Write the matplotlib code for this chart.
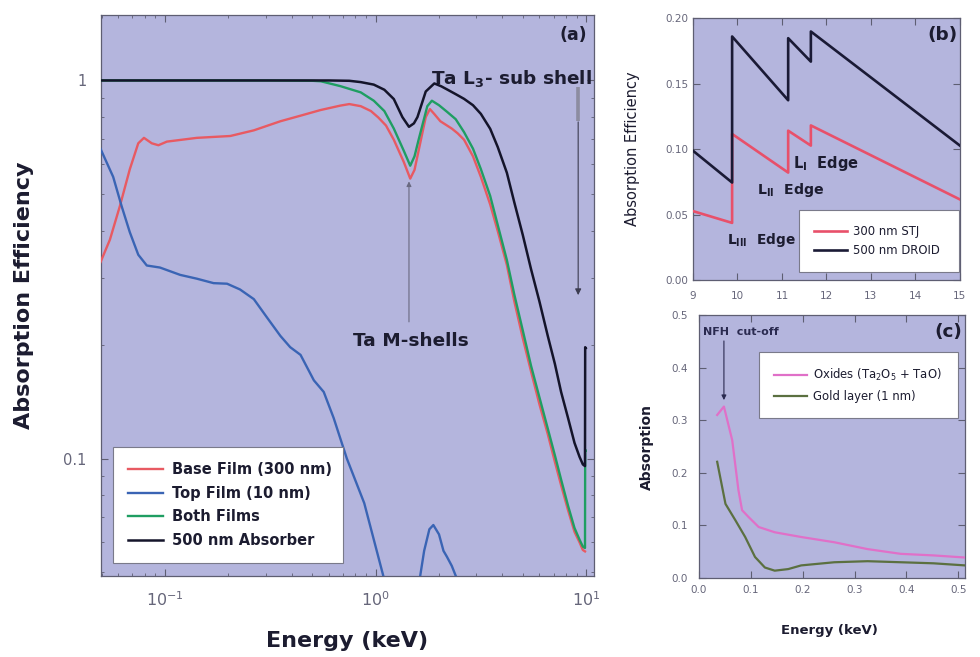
import matplotlib
matplotlib.use("Agg")
import matplotlib.pyplot as plt
from matplotlib.ticker import FixedLocator, FuncFormatter, NullFormatter, LogLocator, MultipleLocator

plt.rcParams['font.family'] = ['DejaVu Sans']
plt.rcParams['mathtext.fontset'] = 'dejavusans'

# ---------------- panel (a): absorption vs energy, log-log ----------------
energy_base = [0.0494, 0.0547, 0.061, 0.068, 0.0746, 0.0794, 0.0865, 0.093, 0.102, 0.1416,
               0.204, 0.264, 0.353, 0.44, 0.547, 0.68, 0.75, 0.85, 0.95, 1.03, 1.12, 1.22,
               1.36, 1.46, 1.53, 1.6, 1.73, 1.81, 1.9, 2.03, 2.3, 2.45, 2.63, 2.9, 3.16, 3.5,
               3.8, 4.2, 4.56, 5.0, 5.47, 6.0, 6.57, 7.1, 7.6, 8.2, 8.8, 9.3, 9.64, 9.87]
abs_base = [0.331, 0.379, 0.465, 0.582, 0.682, 0.705, 0.682, 0.674, 0.689, 0.705,
            0.713, 0.738, 0.78, 0.807, 0.835, 0.858, 0.866, 0.855, 0.83, 0.798, 0.76, 0.697,
            0.609, 0.55, 0.58, 0.652, 0.80, 0.84, 0.815, 0.78, 0.746, 0.725, 0.697, 0.63, 0.556, 0.47,
            0.40, 0.325, 0.26, 0.208, 0.17, 0.139, 0.116, 0.098, 0.085, 0.073, 0.064, 0.060, 0.0573, 0.0568]

energy_top = [0.0494, 0.0567, 0.0622, 0.068, 0.0746, 0.0819, 0.0946, 0.118, 0.1416, 0.17,
              0.197, 0.227, 0.264, 0.305, 0.353, 0.393, 0.44, 0.509, 0.567, 0.632, 0.73, 0.883,
              1.09, 1.3, 1.5, 1.6, 1.7, 1.8, 1.88, 2.0, 2.1, 2.18, 2.3, 2.41, 2.7, 3.2, 4.0, 6.0, 9.87]
abs_top = [0.659, 0.556, 0.465, 0.397, 0.346, 0.324, 0.32, 0.306, 0.299, 0.291,
           0.29, 0.28, 0.264, 0.236, 0.211, 0.197, 0.188, 0.161, 0.150, 0.128, 0.100, 0.0762,
           0.0487, 0.035, 0.038, 0.046, 0.057, 0.065, 0.0667, 0.063, 0.057, 0.055, 0.052, 0.0487,
           0.038, 0.025, 0.015, 0.006, 0.003]

energy_both = [0.0494, 0.3, 0.5, 0.55, 0.68, 0.85, 0.98, 1.1, 1.22, 1.36, 1.46, 1.53, 1.6,
               1.76, 1.85, 2.0, 2.19, 2.4, 2.63, 2.9, 3.16, 3.5, 3.8, 4.2, 4.56, 5.0, 5.47,
               6.0, 6.57, 7.1, 7.6, 8.2, 8.8, 9.3, 9.64, 9.87, 9.89, 9.95]
abs_both = [1.0, 1.0, 0.998, 0.995, 0.966, 0.93, 0.884, 0.83, 0.746, 0.652, 0.595, 0.63, 0.697,
            0.855, 0.884, 0.86, 0.825, 0.79, 0.73, 0.66, 0.583, 0.495, 0.415, 0.335, 0.271, 0.218, 0.176,
            0.145, 0.12, 0.102, 0.088, 0.075, 0.0655, 0.061, 0.0585, 0.058, 0.105, 0.105]

energy_absorber = [0.0494, 0.1, 0.3, 0.6, 0.75, 0.85, 0.98, 1.1, 1.22, 1.34, 1.44, 1.52, 1.58,
                   1.73, 1.9, 2.05, 2.19, 2.4, 2.63, 2.9, 3.16, 3.5, 3.8, 4.2, 4.56, 5.0, 5.47,
                   6.0, 6.57, 7.1, 7.6, 8.2, 8.8, 9.3, 9.64, 9.87, 9.89, 9.95]
abs_absorber = [1.0, 1.0, 1.0, 1.0, 0.998, 0.99, 0.975, 0.945, 0.893, 0.80, 0.754, 0.77, 0.80,
                0.935, 0.982, 0.965, 0.946, 0.92, 0.894, 0.86, 0.816, 0.745, 0.667, 0.57, 0.475, 0.39, 0.317,
                0.26, 0.211, 0.178, 0.150, 0.128, 0.110, 0.101, 0.0965, 0.0955, 0.197, 0.196]

labels_a = ['Base Film (300 nm)', 'Top Film (10 nm)', 'Both Films', '500 nm Absorber']

# ---------------- panel (b): Ta L-edges ----------------
energy_b = [9.0, 9.88, 9.88, 11.14, 11.14, 11.65, 11.65, 15.0]
abs_stj = [0.0526, 0.0436, 0.1115, 0.082, 0.114, 0.1026, 0.118, 0.0615]
abs_droid = [0.0987, 0.0744, 0.1859, 0.1372, 0.1846, 0.1667, 0.1897, 0.1026]
labels_b = ['300 nm STJ', '500 nm DROID']

# ---------------- panel (c): surface layers at low energy ----------------
energy_oxide = [0.035, 0.048, 0.064, 0.076, 0.083, 0.0955, 0.115, 0.146, 0.197, 0.261,
                0.325, 0.389, 0.452, 0.513]
abs_oxide = [0.31, 0.326, 0.262, 0.167, 0.129, 0.116, 0.097, 0.087, 0.078, 0.068,
             0.055, 0.046, 0.043, 0.039]
energy_gold = [0.035, 0.051, 0.07, 0.089, 0.108, 0.127, 0.146, 0.172, 0.197, 0.261,
               0.325, 0.389, 0.452, 0.513]
abs_gold = [0.221, 0.141, 0.11, 0.078, 0.04, 0.02, 0.014, 0.017, 0.024, 0.03,
            0.032, 0.03, 0.028, 0.024]
labels_c = ['Oxides (Ta$_2$O$_5$ + TaO)', 'Gold layer (1 nm)']

BG = '#b4b5dd'
TXT = '#1c1c30'
TICK = '#66667a'
SPINE = '#5e5e72'

fig = plt.figure(figsize=(9.8, 6.57), dpi=100)


def style_axes(ax, size):
    ax.set_facecolor(BG)
    for s in ax.spines.values():
        s.set_color(SPINE)
        s.set_linewidth(0.9)
    ax.tick_params(which='both', direction='in', top=True, right=True,
                   colors=SPINE, labelcolor=TICK, labelsize=size)
    ax.tick_params(which='major', length=5, width=0.8)
    ax.tick_params(which='minor', length=2.5, width=0.6)


def style_legend(leg):
    for t in leg.get_texts():
        t.set_color(TXT)
    leg.get_frame().set_linewidth(0.8)


# ---- (a)
ax_a = fig.add_axes([0.1028, 0.1233, 0.5034, 0.8539])
style_axes(ax_a, 11.5)
ax_a.set_xscale('log')
ax_a.set_yscale('log')
ax_a.set_xlim(0.0495, 10.9)
ax_a.set_ylim(0.0489, 1.49)
ax_a.plot(energy_base, abs_base, color='#e85a62', lw=1.7, label=labels_a[0], zorder=3)
ax_a.plot(energy_top, abs_top, color='#3a64b4', lw=1.7, label=labels_a[1], zorder=3)
ax_a.plot(energy_both, abs_both, color='#1f9e62', lw=1.7, label=labels_a[2], zorder=4)
ax_a.plot(energy_absorber, abs_absorber, color='#14142a', lw=1.8, label=labels_a[3], zorder=5)

ax_a.xaxis.set_major_locator(FixedLocator([0.1, 1, 10]))
ax_a.xaxis.set_minor_locator(LogLocator(base=10, subs=range(2, 10), numticks=20))
ax_a.xaxis.set_minor_formatter(NullFormatter())
ax_a.yaxis.set_major_locator(FixedLocator([0.1, 1]))
ax_a.yaxis.set_major_formatter(FuncFormatter(lambda v, p: '1' if v >= 1 else '0.1'))
ax_a.yaxis.set_minor_locator(LogLocator(base=10, subs=range(2, 10), numticks=20))
ax_a.yaxis.set_minor_formatter(NullFormatter())
ax_a.tick_params(axis='x', pad=10)
ax_a.tick_params(axis='y', pad=10, labelsize=10.5)

ax_a.set_xlabel('Energy (keV)', fontsize=16, fontweight='bold', color=TXT)
ax_a.set_ylabel('Absorption Efficiency', fontsize=16, fontweight='bold', color=TXT)
ax_a.xaxis.set_label_coords(0.50, -0.098)
ax_a.yaxis.set_label_coords(-0.135, 0.5)

leg_a = ax_a.legend(loc='lower left', bbox_to_anchor=(0.025, 0.023, 0.466, 0.2), mode='expand',
                    borderaxespad=0, prop={'size': 10.5, 'weight': 'bold'},
                    handlelength=2.4, handletextpad=0.6, labelspacing=0.58, borderpad=1.05,
                    fancybox=False, framealpha=1, edgecolor='#7a7a8a')
style_legend(leg_a)

ax_a.text(0.985, 0.965, '(a)', transform=ax_a.transAxes, ha='right', va='center',
          fontsize=12.5, fontweight='bold', color=TXT)
ax_a.text(0.995, 0.887, r'Ta L$_{\mathbf{3}}$- sub shell', transform=ax_a.transAxes,
          ha='right', va='center', fontsize=13.3, fontweight='bold', color=TXT)

# L3 edge pointer
l3_x = 9.16
ax_a.plot([l3_x, l3_x], [0.96, 0.78], color='#8c8ca0', lw=2.6, solid_capstyle='butt', zorder=2)
ax_a.annotate('', xy=(l3_x, 0.266), xytext=(l3_x, 0.79),
              arrowprops=dict(arrowstyle='-|>', color='#3c3c50', lw=0.8, mutation_scale=9),
              zorder=2)

# M-shell pointer
m_x = 1.44
ax_a.annotate('', xy=(m_x, 0.55), xytext=(m_x, 0.226),
              arrowprops=dict(arrowstyle='-|>', color='#6a6a82', lw=0.8, mutation_scale=7),
              zorder=6)
ax_a.text(1.474, 0.2046, 'Ta M-shells', ha='center', va='center', fontsize=13.3,
          fontweight='bold', color=TXT)

# ---- (b)
ax_b = fig.add_axes([0.7071, 0.5738, 0.2724, 0.3988])
style_axes(ax_b, 7.5)
ax_b.set_xlim(9, 15)
ax_b.set_ylim(0, 0.2)
ax_b.plot(energy_b, abs_stj, color='#e8506a', lw=1.9, label=labels_b[0], zorder=3)
ax_b.plot(energy_b, abs_droid, color='#1a1a35', lw=1.9, label=labels_b[1], zorder=3)
ax_b.xaxis.set_major_locator(MultipleLocator(1))
ax_b.yaxis.set_major_locator(MultipleLocator(0.05))
ax_b.yaxis.set_major_formatter(FuncFormatter(lambda v, p: f'{v:.2f}'))
ax_b.tick_params(axis='x', pad=8)
ax_b.set_ylabel('Absorption Efficiency', fontsize=10.5, color=TXT)
ax_b.yaxis.set_label_coords(-0.2, 0.5)
leg_b = ax_b.legend(loc='lower left', bbox_to_anchor=(0.397, 0.031, 0.598, 0.2), mode='expand',
                    borderaxespad=0, prop={'size': 8.4}, handlelength=2.8, handletextpad=0.5,
                    labelspacing=0.45, borderpad=1.3, fancybox=False, framealpha=1,
                    edgecolor='#7a7a8a')
style_legend(leg_b)
ax_b.text(0.99, 0.935, '(b)', transform=ax_b.transAxes, ha='right', va='center',
          fontsize=13.3, fontweight='bold', color=TXT)
ax_b.text(9.76, 0.0305, r'L$_{\mathbf{III}}$  Edge', ha='left', va='center', fontsize=9.8,
          fontweight='bold', color=TXT)
ax_b.text(10.44, 0.0687, r'L$_{\mathbf{II}}$  Edge', ha='left', va='center', fontsize=10.2,
          fontweight='bold', color=TXT)
ax_b.text(11.25, 0.0893, r'L$_{\mathbf{I}}$  Edge', ha='left', va='center', fontsize=10.5,
          fontweight='bold', color=TXT)

# ---- (c)
ax_c = fig.add_axes([0.7133, 0.1202, 0.2714, 0.4003])
style_axes(ax_c, 7.5)
ax_c.set_xlim(0, 0.513)
ax_c.set_ylim(0, 0.5)
ax_c.plot(energy_oxide, abs_oxide, color='#e070c8', lw=1.6, label=labels_c[0], zorder=3)
ax_c.plot(energy_gold, abs_gold, color='#5b7040', lw=1.6, label=labels_c[1], zorder=3)
ax_c.xaxis.set_major_locator(MultipleLocator(0.1))
ax_c.yaxis.set_major_locator(MultipleLocator(0.1))
ax_c.xaxis.set_major_formatter(FuncFormatter(lambda v, p: f'{v:.1f}'))
ax_c.yaxis.set_major_formatter(FuncFormatter(lambda v, p: f'{v:.1f}'))
ax_c.tick_params(axis='x', pad=5)
ax_c.tick_params(axis='y', pad=8)
ax_c.set_xlabel('Energy (keV)', fontsize=9.5, fontweight='bold', color=TXT)
ax_c.set_ylabel('Absorption', fontsize=10, fontweight='bold', color=TXT)
ax_c.xaxis.set_label_coords(0.49, -0.175)
ax_c.yaxis.set_label_coords(-0.17, 0.5)
leg_c = ax_c.legend(loc='upper left', bbox_to_anchor=(0.2256, 0.6, 0.748, 0.259), mode='expand',
                    borderaxespad=0, prop={'size': 8.4}, handlelength=2.8, handletextpad=0.5,
                    labelspacing=0.55, borderpad=1.3, fancybox=False, framealpha=1,
                    edgecolor='#7a7a8a')
style_legend(leg_c)
ax_c.text(0.99, 0.935, '(c)', transform=ax_c.transAxes, ha='right', va='center',
          fontsize=13.3, fontweight='bold', color=TXT)
ax_c.text(0.008, 0.468, 'NFH  cut-off', ha='left', va='center', fontsize=8,
          fontweight='bold', color='#2a2a50')
ax_c.annotate('', xy=(0.048, 0.333), xytext=(0.048, 0.456),
              arrowprops=dict(arrowstyle='-|>', color='#2a2a50', lw=0.8, mutation_scale=7))

fig.savefig('out.png', dpi=100, facecolor='white')
